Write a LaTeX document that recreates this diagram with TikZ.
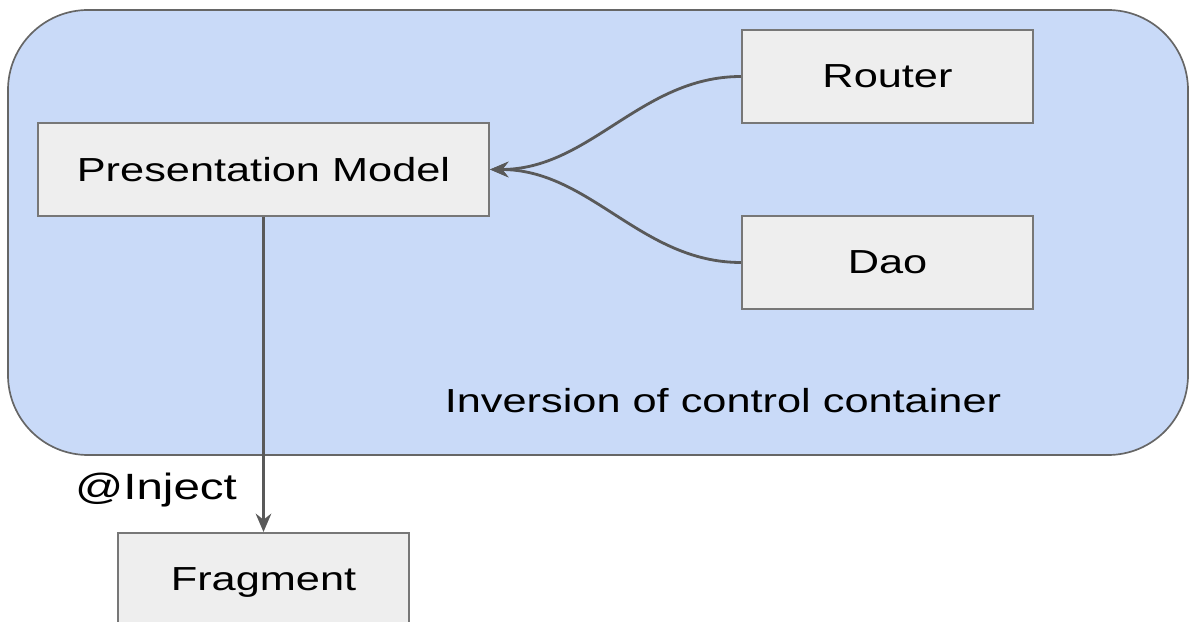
\documentclass[tikz,border=0pt]{standalone}
\usepackage{fontspec}
\setmainfont{Liberation Sans}[FakeStretch=1.3]
\usetikzlibrary{arrows.meta}

\begin{document}
\begin{tikzpicture}[x=0.025cm, y=-0.025cm,
    every node/.style={font=\fontsize{23.7}{28}\selectfont},
    box/.style={draw=boxline, line width=1.4pt, fill=boxfill, inner sep=0pt,
        text depth=0pt, minimum width=7.275cm, minimum height=2.325cm},
    link/.style={draw=linkcolor, line width=2pt, -{Stealth[length=13pt, width=11pt]}}]
    % Define colors
    \definecolor{containerfill}{RGB}{201,218,248}
    \definecolor{containerline}{RGB}{102,102,102}
    \definecolor{boxfill}{RGB}{238,238,238}
    \definecolor{boxline}{RGB}{119,119,119}
    \definecolor{linkcolor}{RGB}{89,89,89}

    \useasboundingbox (0,0) rectangle (1191,622);

    % Container
    \draw[line width=1.2pt, draw=containerline, fill=containerfill, rounded corners=2cm]
        (8,10) rectangle (1188,455);
    \node (ioc) at (723,401) {Inversion of control container};

    % Components
    \node[box, minimum width=11.275cm] (model) at (263.5,169.5) {Presentation Model};
    \node[box] (router) at (887.5,76.5) {Router};
    \node[box] (dao) at (887.5,262.5) {Dao};
    \node[box] (fragment) at (263.5,579.5) {Fragment};

    % Connections
    \draw[link] (router.west) .. controls +(-2.5cm,0) and +(2.5cm,0) .. (model.east);
    \draw[link] (dao.west) .. controls +(-2.5cm,0) and +(2.5cm,0) .. (model.east);
    \draw[link] (model.south) -- (fragment.north);
    \node[font=\fontsize{26}{30}\selectfont] (inject) at (156,490) {@Inject};
\end{tikzpicture}
\end{document}
